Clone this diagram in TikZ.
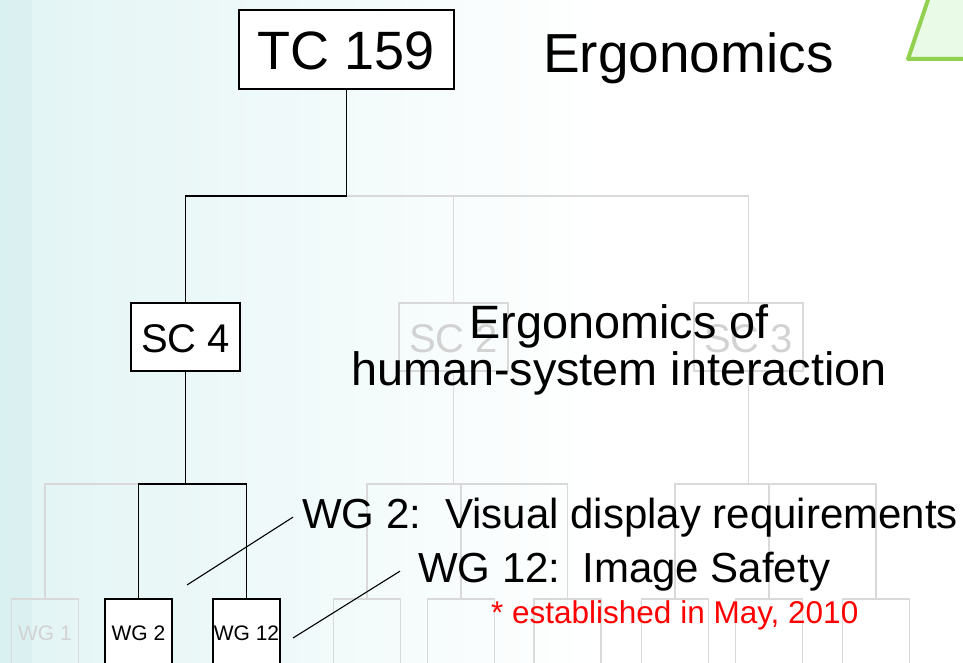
\documentclass[tikz,border=0pt]{standalone}
\usepackage{fontspec}
\setmainfont{Liberation Sans}
\definecolor{faint}{HTML}{D9D9D9}
\definecolor{fainttext}{HTML}{D2D2D2}
\definecolor{bgcyan}{HTML}{E2F4F4}
\definecolor{bgstrip}{HTML}{D6EFEF}
\definecolor{grnline}{HTML}{92D050}
\definecolor{grnfill}{HTML}{E9FBE6}
\definecolor{notered}{HTML}{FF0000}
\begin{document}
\begin{tikzpicture}[x=1pt,y=-1pt,
  blk/.style={draw=black, line width=1.6pt},
  gry/.style={draw=faint, line width=1.4pt},
  leader/.style={draw=black, line width=1.1pt},
  tcbox/.style={draw=black, fill=white, line width=1.6pt, minimum width=215pt, minimum height=79pt,
    inner sep=0pt, text height=40pt, text depth=0pt, font=\fontsize{54}{60}\selectfont},
  scbox/.style={draw=black, fill=white, line width=1.6pt, minimum width=109pt, minimum height=68pt,
    inner sep=0pt, text height=30pt, text depth=0pt, font=\fontsize{40}{44}\selectfont},
  scgray/.style={scbox, draw=faint, fill=none, line width=1.4pt, text=fainttext},
  wgbox/.style={draw=black, fill=white, line width=1.6pt, minimum width=67pt, minimum height=91pt,
    inner sep=0pt, text height=15pt, text depth=24pt, font=\fontsize{21}{24}\selectfont},
  wggray/.style={wgbox, draw=faint, fill=none, line width=1.4pt, text=fainttext},
  bigtext/.style={inner sep=0pt, font=\fontsize{55}{60}\selectfont},
  subtext/.style={inner sep=0pt, font=\fontsize{46.8}{50}\selectfont},
  labtext/.style={inner ysep=0pt, font=\fontsize{42}{46}\selectfont},
  notetext/.style={inner sep=0pt, text=notered, font=\fontsize{31.5}{34}\selectfont}
]
\useasboundingbox (0,0) rectangle (963,663);
\begin{scope}
\clip (0,0) rectangle (963,663);
% background
\fill[white] (0,0) rectangle (963,663);
\shade[left color=bgcyan, right color=white] (0,0) rectangle (600,663);
\fill[bgstrip, opacity=0.6] (0,0) rectangle (32,663);
% green corner shape
\filldraw[fill=grnfill, draw=grnline, line width=4pt, line join=round]
  (908,59) -- (932,-12) -- (980,-12) -- (980,59) -- cycle;

% coordinates of the buses
\coordinate (busTop) at (0,196);
\coordinate (busMid) at (0,484);

% nodes
\node[tcbox] (tc) at (346.5,49.5) {TC 159};
\node[scbox] (sc4) at (185.5,337) {SC 4};
\node[scgray] (sc2) at (453.5,337) {SC 2};
\node[scgray] (sc3) at (748.5,337) {SC 3};

\node[wggray] (wg1) at (45,644.5) {WG 1};
\node[wgbox] (wg2) at (138.5,644.5) {WG 2};
\node[wgbox] (wg12) at (246.5,644.5) {WG 12};
\node[wggray] (g1) at (367,644.5) {};
\node[wggray] (g2) at (461,644.5) {};
\node[wggray] (g3) at (567.5,644.5) {};
\node[wggray] (g4) at (675,644.5) {};
\node[wggray] (g5) at (769,644.5) {};
\node[wggray] (g6) at (876,644.5) {};

% gray connectors
\draw[gry] (tc.south |- busTop) -| (sc3.north);
\draw[gry] (sc2.north |- busTop) -- (sc2.north);
\draw[gry] (wg1.north) |- (wg2.north |- busMid);
\draw[gry] (sc2.south) -- (sc2.south |- busMid);
\draw[gry] (g1.north) |- (g3.north |- busMid) -- (g3.north);
\draw[gry] (g2.north) -- (g2.north |- busMid);
\draw[gry] (sc3.south) -- (sc3.south |- busMid);
\draw[gry] (g4.north) |- (g6.north |- busMid) -- (g6.north);
\draw[gry] (g5.north) -- (g5.north |- busMid);

% black connectors
\draw[blk] (tc.south) -- (tc.south |- busTop) -| (sc4.north);
\draw[blk] (sc4.south) -- (sc4.south |- busMid);
\draw[blk] (wg2.north) |- (wg12.north |- busMid) -- (wg12.north);

% redraw black boxes on top
\node[tcbox] at (tc) {TC 159};
\node[scbox] at (sc4) {SC 4};
\node[wgbox] at (wg2) {WG 2};
\node[wgbox] at (wg12) {WG 12};

% texts
\node[bigtext, anchor=base west] (ergo) at (543,73) {Ergonomics};
\node[subtext, anchor=base] (sub1) at (619,338) {Ergonomics of};
\node[subtext, anchor=base] (sub2) at (619,385) {human-system interaction};
\node[labtext, inner xsep=9pt, anchor=base west] (wg2lab) at (293,528)
  {WG 2:\hspace{24pt}Visual display requirements};
\node[labtext, inner xsep=18pt, anchor=base west] (wg12lab) at (400,582)
  {WG 12:\hspace{22pt}Image Safety};
\node[notetext, anchor=base west] (note) at (491,623) {* established in May, 2010};

% leader lines
\coordinate (l1end) at (187,585);
\coordinate (l2end) at (293,638);
\draw[leader] (wg2lab.west) -- (l1end);
\draw[leader] (wg12lab.west) -- (l2end);
\end{scope}
\end{tikzpicture}
\end{document}
